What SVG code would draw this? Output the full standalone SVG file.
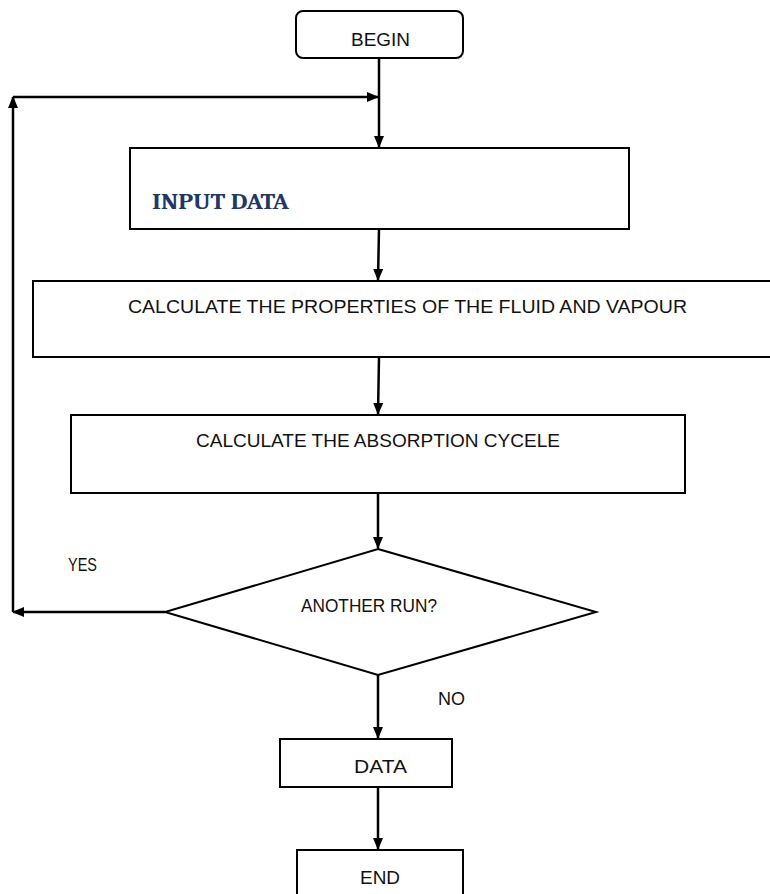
<svg xmlns="http://www.w3.org/2000/svg" width="770" height="894" viewBox="0 0 770 894">
<style>
.box{fill:#fff;stroke:#000;stroke-width:2}
.lbl{font-family:"Liberation Sans",Arial,sans-serif;font-size:18.5px;fill:#111}
.c{text-anchor:middle}
.con{fill:none;stroke:#000;stroke-width:2.5}
</style>
<defs>
<marker id="ah" markerWidth="12" markerHeight="10" refX="11" refY="5" orient="auto" markerUnits="userSpaceOnUse">
<path d="M0,0 L12,5 L0,10 Z" fill="#000"/>
</marker>
</defs>
<rect width="770" height="894" fill="#fff"/>
<g id="connectors">
<path class="con" d="M379,58 V147" marker-end="url(#ah)"/>
<path class="con" d="M13,97 H378" marker-end="url(#ah)"/>
<path class="con" d="M379,229 L378,280" marker-end="url(#ah)"/>
<path class="con" d="M379,357 L378,414" marker-end="url(#ah)"/>
<path class="con" d="M378,493 V548" marker-end="url(#ah)"/>
<path class="con" d="M165,612 H13" marker-end="url(#ah)"/>
<path class="con" d="M13,612 V97" marker-end="url(#ah)"/>
<path class="con" d="M378,675 V738" marker-end="url(#ah)"/>
<path class="con" d="M378,787 V849" marker-end="url(#ah)"/>
</g>
<g id="begin">
<rect class="box" x="296" y="11" width="167" height="47" rx="7"/>
<text class="lbl c" x="380.5" y="46" textLength="59" lengthAdjust="spacingAndGlyphs">BEGIN</text>
</g>
<g id="input">
<rect class="box" x="130" y="148" width="499" height="81"/>
<text x="152" y="209" font-family="Cambria,'Liberation Serif',serif" font-weight="bold" font-size="22" fill="#1F3864" textLength="137" lengthAdjust="spacingAndGlyphs">INPUT DATA</text>
</g>
<g id="properties">
<rect class="box" x="33" y="281" width="740" height="76"/>
<text class="lbl c" x="407.5" y="313" textLength="559" lengthAdjust="spacingAndGlyphs">CALCULATE THE PROPERTIES OF THE FLUID AND VAPOUR</text>
</g>
<g id="absorption">
<rect class="box" x="71" y="415" width="614" height="78"/>
<text class="lbl c" x="378" y="447" textLength="364" lengthAdjust="spacingAndGlyphs">CALCULATE THE ABSORPTION CYCELE</text>
</g>
<g id="decision">
<polygon class="box" points="378,549 596,612 378,675 165,612"/>
<text class="lbl c" x="369" y="612" textLength="136" lengthAdjust="spacingAndGlyphs">ANOTHER RUN?</text>
</g>
<text class="lbl" x="68" y="571" textLength="29" lengthAdjust="spacingAndGlyphs">YES</text>
<text class="lbl" x="438" y="705" textLength="27" lengthAdjust="spacingAndGlyphs">NO</text>
<g id="data">
<rect class="box" x="280" y="739" width="172" height="48"/>
<text class="lbl c" x="380.5" y="773" textLength="53" lengthAdjust="spacingAndGlyphs">DATA</text>
</g>
<g id="end">
<rect class="box" x="297" y="850" width="166" height="50"/>
<text class="lbl c" x="380" y="884" textLength="40" lengthAdjust="spacingAndGlyphs">END</text>
</g>
</svg>
